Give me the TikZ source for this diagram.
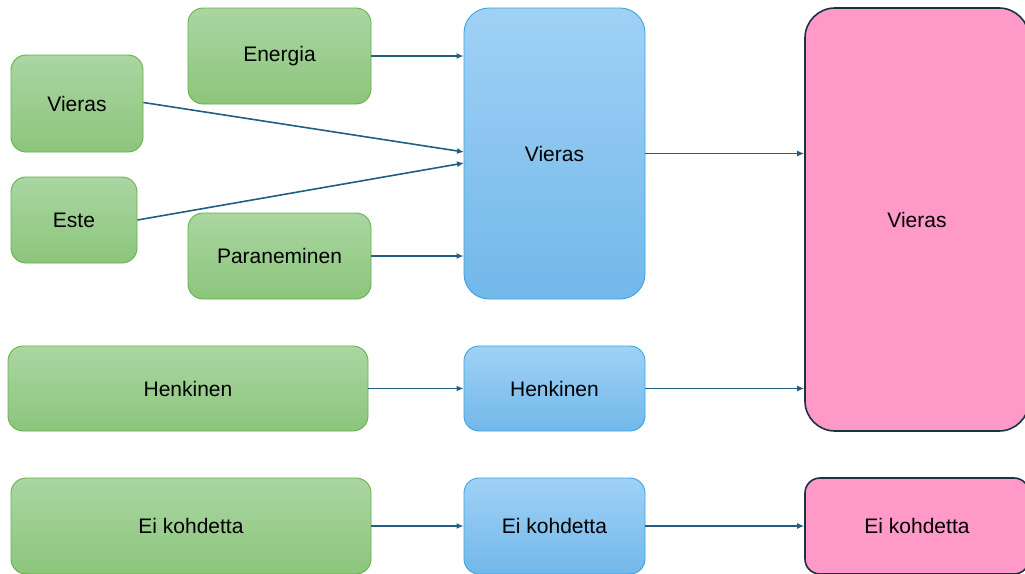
\documentclass[tikz,border=0pt]{standalone}
\usepackage{fontspec}
\setmainfont{Liberation Sans}
\usetikzlibrary{arrows.meta}
\definecolor{gtop}{HTML}{AAD6A2}
\definecolor{gbot}{HTML}{8CC57C}
\definecolor{gline}{HTML}{67B04A}
\definecolor{btop}{HTML}{A0D1F5}
\definecolor{bbot}{HTML}{72B8EA}
\definecolor{bline}{HTML}{3DA2E2}
\definecolor{pfill}{HTML}{FF99C8}
\definecolor{pline}{HTML}{1B3242}
\definecolor{arr}{HTML}{1F5F84}
\tikzset{
  box/.style={rectangle, inner sep=0pt, font=\fontsize{21}{25}\selectfont, text=black},
  gbox/.style={box, top color=gtop, bottom color=gbot, draw=gline, line width=0.9pt, rounded corners=15pt},
  bbox/.style={box, top color=btop, bottom color=bbot, draw=bline, line width=0.9pt, rounded corners=15pt},
  pbox/.style={box, fill=pfill, draw=pline, line width=1.6pt, rounded corners=15pt},
  conn/.style={draw=arr, line width=1.6pt, -{Latex[length=7pt,width=6pt]}}
}
\begin{document}
\begin{tikzpicture}[x=1pt,y=-1pt]
\useasboundingbox (0,0) rectangle (1025,573);
\clip (0,0) rectangle (1025,573);
% green
\node[gbox, minimum width=183pt, minimum height=96pt] (en) at (279.5,56) {Energia};
\node[gbox, minimum width=132pt, minimum height=97pt] (vg) at (77,103.5) {Vieras};
\node[gbox, minimum width=126pt, minimum height=86pt] (es) at (74,220) {Este};
\node[gbox, minimum width=183pt, minimum height=86pt] (pa) at (279.5,256) {Paraneminen};
\node[gbox, minimum width=360pt, minimum height=85pt] (hg) at (188,388.5) {Henkinen};
\node[gbox, minimum width=360pt, minimum height=96pt] (eg) at (191,526) {Ei kohdetta};
% blue
\node[bbox, rounded corners=25pt, minimum width=181pt, minimum height=291pt] (vb) at (554.5,153.5) {Vieras};
\node[bbox, minimum width=181pt, minimum height=85pt] (hb) at (554.5,388.5) {Henkinen};
\node[bbox, minimum width=181pt, minimum height=96pt] (eb) at (554.5,526) {Ei kohdetta};
% pink
\node[pbox, rounded corners=30pt, minimum width=224pt, minimum height=423pt] (vp) at (917,219.5) {Vieras};
\node[pbox, minimum width=224pt, minimum height=96pt] (ep) at (917,526) {Ei kohdetta};
% targets on the blue Vieras box
\coordinate (t1) at (464,152);
\coordinate (t2) at (464,163);
% connectors
\draw[conn] (en.east) -- (en.east -| vb.west);
\draw[conn] (vg.east) ++(0,-1) -- (t1);
\draw[conn] (es.east) -- (t2);
\draw[conn] (pa.east) -- (pa.east -| vb.west);
\draw[conn] (vb.east) -- (vb.east -| vp.west);
\draw[conn] (hg.east) -- (hg.east -| hb.west);
\draw[conn] (hb.east) -- (hb.east -| vp.west);
\draw[conn] (eg.east) -- (eg.east -| eb.west);
\draw[conn] (eb.east) -- (eb.east -| ep.west);
\end{tikzpicture}
\end{document}
